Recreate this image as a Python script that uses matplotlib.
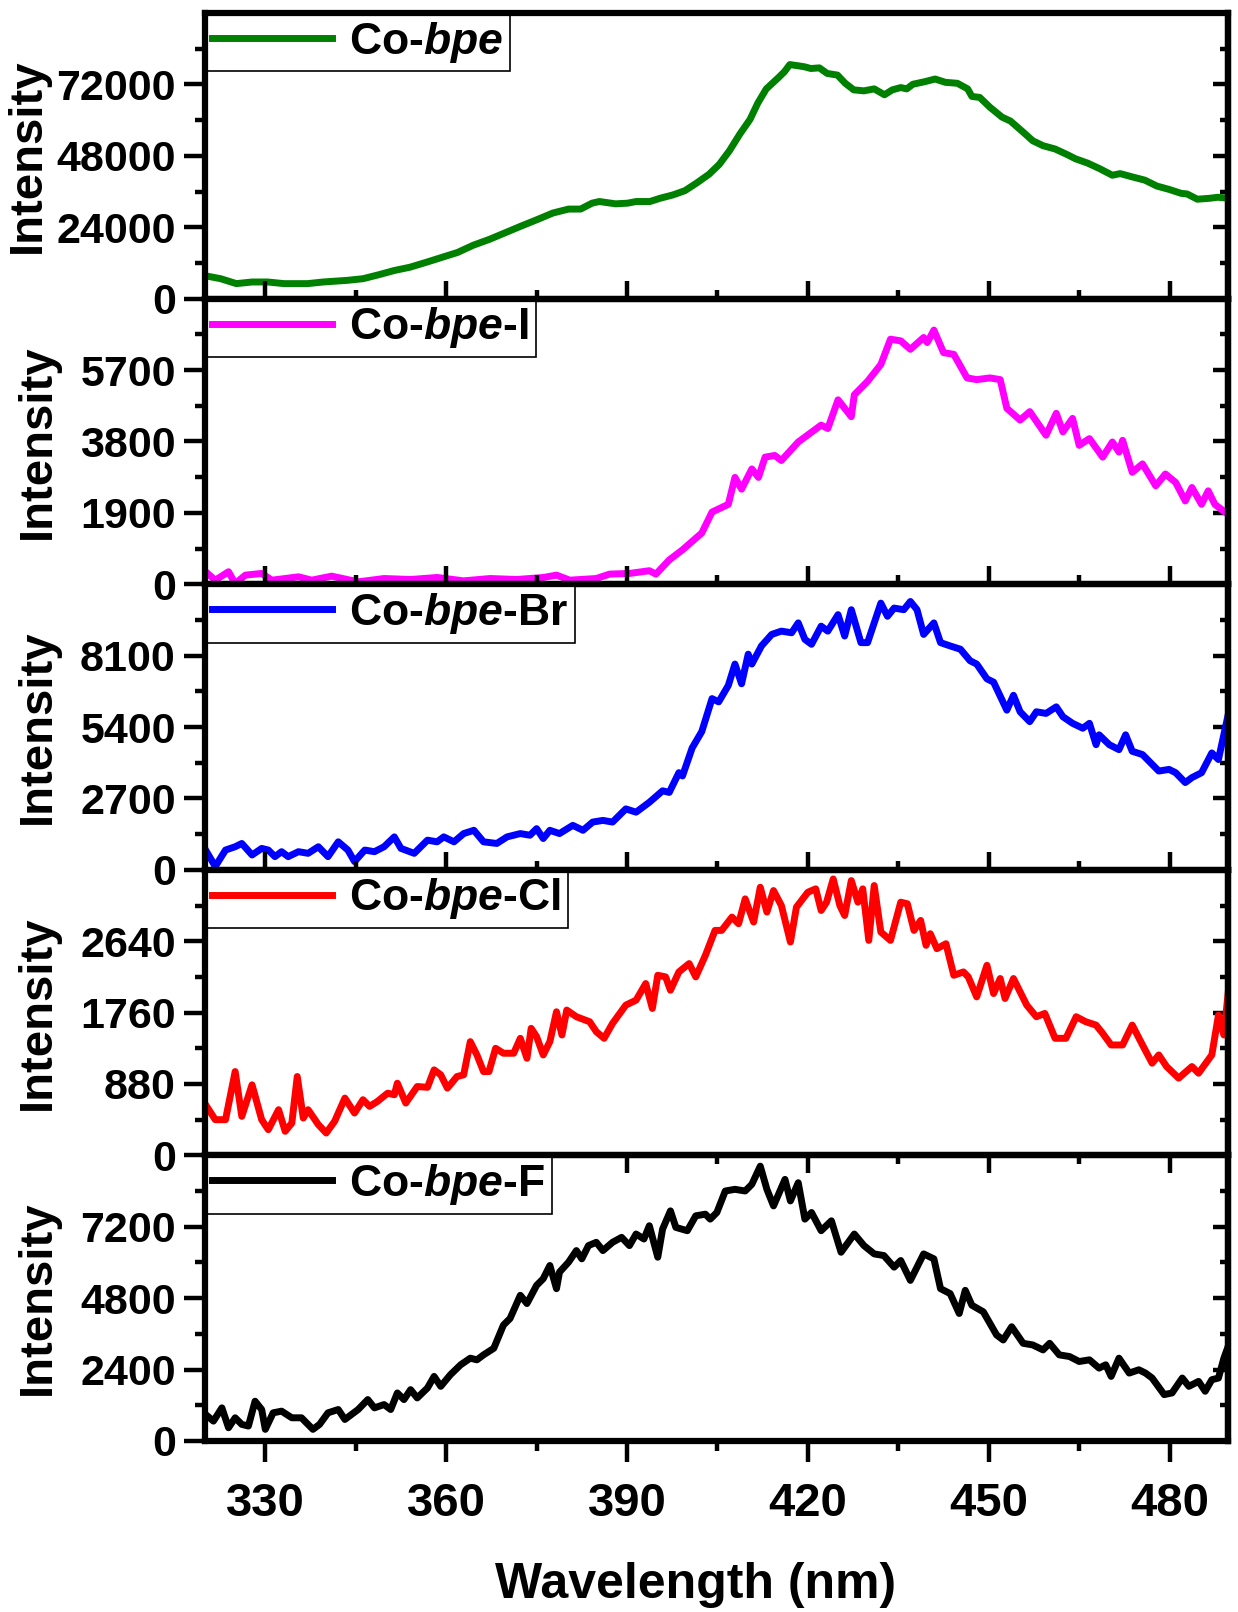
import matplotlib
matplotlib.use('Agg')
import matplotlib.pyplot as plt
from matplotlib.ticker import MultipleLocator, FixedLocator, FuncFormatter

plt.rcParams['font.family'] = ['Liberation Sans', 'DejaVu Sans']
plt.rcParams['font.weight'] = 'bold'
plt.rcParams['mathtext.fontset'] = 'custom'
plt.rcParams['mathtext.rm'] = 'Liberation Sans:bold'
plt.rcParams['mathtext.it'] = 'Liberation Sans:italic:bold'
plt.rcParams['mathtext.bf'] = 'Liberation Sans:bold'

# ---- data ----
co_wl = [320.3, 322.6, 325.2, 327.8, 330.4, 333.1, 337.0, 339.6, 343.6, 346.2, 348.8, 351.4, 354.0,
         356.7, 359.3, 361.9, 364.5, 367.2, 369.8, 372.4, 375.1, 377.7, 380.3, 382.3, 384.2,
         385.4, 388.1, 390.1, 391.5, 393.8, 395.5, 397.6, 399.6, 401.6, 403.6, 405.3, 407.0, 408.7,
         410.4, 411.7, 413.1, 415.1, 416.1, 417.0, 418.5, 419.5, 420.5, 421.9, 423.2, 424.9, 426.2,
         427.6, 429.3, 431.0, 432.7, 434.0, 435.4, 436.4, 437.4, 439.4, 441.1, 442.8, 444.8, 446.5,
         447.2, 448.5, 450.2, 452.2, 453.6, 455.6, 457.3, 459.0, 461.0, 463.0, 464.4, 466.4, 468.4,
         470.5, 471.8, 473.8, 475.9, 477.9, 479.9, 481.9, 482.9, 484.6, 486.7, 488.0, 489.7]
co_int = [7584, 6701, 5045, 5597, 5597, 5045, 5045, 5597, 6149, 6701, 8026, 9461, 10565,
          12221, 13877, 15533, 17962, 19949, 22157, 24365, 26573, 28781, 30106, 30106, 32093,
          32645, 31872, 32093, 32645, 32645, 33749, 34853, 36288, 38937, 41808, 45120, 49757, 55277,
          60245, 65765, 70512, 74266, 76253, 78682, 78240, 77909, 77357, 77578, 75701, 75149, 72389,
          70181, 69850, 70512, 68525, 70181, 70954, 70512, 72058, 72941, 73824, 72720, 72389, 70512,
          67973, 67642, 64330, 61018, 59693, 56160, 53069, 51413, 50309, 48432, 46997, 45562, 43685,
          41477, 42029, 40925, 39821, 37834, 36730, 35405, 35184, 33418, 33749, 34080, 33749]

i_wl = [320.1, 321.7, 323.9, 325.0, 326.7, 329.4, 331.1, 333.3, 335.5, 337.7, 341.0, 345.4, 349.7,
        354.1, 358.5, 362.9, 367.3, 371.7, 376.1, 378.3, 380.5, 384.9, 387.1, 390.4, 393.7, 394.8,
        397.0, 399.2, 402.4, 404.1, 406.8, 407.9, 409.0, 410.7, 411.8, 412.9, 414.5, 415.6, 418.4,
        422.2, 423.3, 425.0, 427.2, 427.7, 429.9, 432.1, 433.7, 435.4, 437.0, 439.2, 439.8, 440.9,
        442.5, 444.2, 446.4, 448.0, 450.2, 451.9, 453.0, 455.2, 456.8, 459.5, 461.2, 462.3, 463.9,
        465.0, 466.7, 468.9, 470.5, 471.6, 472.2, 473.8, 475.5, 477.7, 479.3, 481.0, 482.6, 483.7,
        485.3, 486.4, 487.5, 488.6, 489.7]
i_int = [332, 108, 332, 18, 242, 287, 108, 152, 197, 108, 215, 63, 152,
         126, 179, 90, 152, 126, 179, 242, 108, 152, 269, 287, 359, 269,
         646, 915, 1363, 1920, 2126, 2843, 2530, 3068, 2843, 3382, 3427, 3292, 3785,
         4234, 4144, 4907, 4458, 5041, 5400, 5848, 6521, 6476, 6252, 6566, 6431, 6763,
         6162, 6118, 5490, 5445, 5490, 5445, 4682, 4368, 4593, 3965, 4548, 4054, 4413,
         3696, 3875, 3382, 3785, 3516, 3830, 2978, 3202, 2619, 2933, 2709, 2216, 2574,
         2126, 2485, 2126, 1991, 1857]

br_wl = [320.1, 321.7, 323.4, 325.0, 326.1, 327.8, 329.4, 330.5, 331.6, 332.7, 333.8, 335.5, 337.1,
         338.8, 340.4, 342.1, 343.7, 344.8, 346.5, 348.1, 349.7, 351.4, 352.5, 354.7, 356.9, 358.5,
         359.6, 361.3, 362.9, 364.6, 366.2, 368.4, 370.1, 372.3, 373.9, 375.0, 376.1, 377.2, 378.8,
         381.0, 382.7, 384.3, 386.0, 387.6, 389.8, 391.5, 393.7, 395.9, 397.0, 398.6, 399.2, 400.8,
         402.4, 404.1, 405.2, 406.8, 407.9, 409.0, 410.1, 410.7, 412.3, 414.0, 415.6, 417.3, 418.4,
         419.5, 420.6, 422.2, 423.3, 425.0, 426.1, 427.2, 428.8, 429.9, 432.1, 433.2, 434.3, 435.9,
         437.0, 438.1, 439.2, 440.9, 442.0, 443.6, 445.3, 446.9, 448.0, 449.7, 450.8, 453.0, 454.1,
         455.2, 456.8, 457.9, 459.5, 461.2, 462.3, 463.9, 465.6, 466.7, 467.8, 468.3, 470.0, 471.6,
         472.7, 473.8, 475.5, 478.2, 479.9, 481.0, 482.6, 483.7, 485.3, 487.0, 488.1, 489.7]
br_int = [747, 125, 747, 872, 996, 560, 809, 747, 498, 685, 498, 685, 623,
          872, 498, 1058, 747, 311, 747, 685, 872, 1245, 809, 623, 1121, 1058,
          1245, 1058, 1370, 1494, 1058, 996, 1245, 1370, 1307, 1556, 1183, 1494, 1370,
          1681, 1494, 1805, 1868, 1805, 2303, 2179, 2552, 2988, 2926, 3673, 3548, 4607,
          5229, 6474, 6350, 6972, 7781, 7034, 8155, 7781, 8466, 8902, 9026, 8964, 9338,
          8715, 8528, 9213, 9026, 9649, 8840, 9836, 8591, 8591, 10085, 9587, 9898, 9836,
          10147, 9836, 8902, 9338, 8591, 8466, 8342, 7906, 7781, 7221, 7097, 6038, 6599,
          5976, 5603, 5976, 5914, 6163, 5789, 5540, 5354, 5540, 4731, 5105, 4731, 4544,
          5105, 4482, 4358, 3735, 3797, 3673, 3299, 3486, 3673, 4420, 4171, 5852]

cl_wl = [320.1, 321.7, 323.4, 325.0, 326.1, 327.8, 329.4, 330.5, 332.2, 333.3, 334.4, 335.3, 336.3,
         337.1, 338.8, 340.1, 341.5, 343.2, 344.8, 346.2, 347.3, 348.6, 350.3, 351.4, 351.9, 353.3,
         355.2, 356.9, 358.0, 359.1, 360.2, 361.8, 362.9, 364.0, 365.1, 366.2, 367.1, 368.2, 369.5,
         371.2, 372.3, 373.4, 374.1, 375.0, 376.1, 377.2, 378.3, 379.2, 380.0, 381.6, 383.8, 384.9,
         386.2, 387.6, 389.8, 391.5, 393.1, 394.2, 395.1, 396.4, 397.2, 398.6, 400.3, 401.4, 403.0,
         404.6, 405.7, 407.4, 408.5, 409.6, 411.0, 412.1, 413.2, 414.3, 415.6, 417.1, 418.1, 420.0,
         421.3, 422.2, 423.1, 424.2, 425.3, 426.1, 427.2, 428.3, 429.1, 430.1, 431.0, 432.1, 433.7,
         435.4, 436.5, 437.6, 438.7, 439.6, 440.3, 441.4, 442.9, 444.2, 445.8, 446.6, 448.0, 449.7,
         450.8, 451.9, 452.7, 454.1, 456.3, 457.9, 459.3, 461.0, 462.8, 464.5, 466.1, 467.8, 468.9,
         470.3, 472.2, 473.8, 475.5, 477.1, 478.2, 479.5, 481.5, 483.7, 484.8, 487.0, 488.1, 489.0,
         489.7]
cl_int = [624, 440, 440, 1033, 481, 870, 440, 317, 563, 297, 399, 972, 460,
          563, 379, 276, 420, 706, 522, 686, 604, 665, 767, 747, 890, 645,
          849, 839, 1054, 993, 829, 972, 993, 1402, 1238, 1033, 1033, 1320, 1259,
          1259, 1443, 1197, 1566, 1463, 1238, 1402, 1770, 1484, 1791, 1709, 1647, 1525,
          1443, 1627, 1852, 1913, 2118, 1811, 2220, 2200, 2036, 2261, 2364, 2200, 2466,
          2773, 2773, 2937, 2855, 3162, 2876, 3305, 2999, 3264, 3080, 2630, 3060, 3244,
          3285, 3019, 3121, 3407, 3080, 2957, 3387, 3121, 3285, 2650, 3326, 2753, 2650,
          3121, 3101, 2773, 2896, 2589, 2732, 2548, 2609, 2220, 2261, 2200, 1954, 2343,
          1995, 2180, 1934, 2180, 1852, 1709, 1750, 1443, 1443, 1709, 1647, 1606, 1504,
          1361, 1361, 1606, 1361, 1136, 1238, 1095, 952, 1095, 1013, 1238, 1729, 1484,
          1995]

f_wl = [320.1, 321.4, 322.8, 323.9, 325.0, 326.1, 327.2, 328.3, 329.4, 330.0, 331.3, 332.7, 334.4,
        336.0, 337.9, 339.0, 340.4, 342.1, 343.2, 345.4, 347.0, 348.1, 349.7, 350.8, 351.9, 353.0,
        354.1, 355.2, 356.9, 358.0, 359.1, 360.7, 362.4, 364.0, 365.1, 366.2, 367.9, 369.5, 370.6,
        372.3, 373.4, 375.0, 376.1, 377.2, 378.3, 378.8, 380.3, 381.6, 382.5, 383.6, 384.9, 386.0,
        387.6, 389.1, 390.4, 391.5, 392.8, 393.7, 395.1, 395.9, 397.2, 398.1, 400.0, 401.4, 403.0,
        403.8, 404.9, 406.3, 407.9, 409.6, 410.7, 412.1, 413.2, 414.3, 416.2, 417.1, 418.4, 419.5,
        420.6, 422.2, 423.9, 425.5, 427.7, 429.3, 431.0, 432.6, 434.3, 435.4, 437.0, 439.2, 440.9,
        442.0, 443.6, 445.1, 446.1, 447.2, 449.1, 451.3, 452.4, 453.8, 455.7, 457.3, 459.0, 460.1,
        461.7, 463.4, 465.0, 466.7, 468.3, 469.4, 470.3, 471.6, 473.3, 474.9, 476.0, 477.1, 479.1,
        480.4, 482.1, 483.2, 484.8, 485.9, 487.0, 488.1, 489.0, 489.8]
f_int = [890, 668, 1113, 445, 779, 557, 501, 1336, 1057, 390, 946, 1002, 779,
         779, 390, 557, 946, 1057, 723, 1057, 1391, 1113, 1224, 1057, 1614, 1391,
         1725, 1447, 1781, 2170, 1836, 2226, 2560, 2783, 2727, 2894, 3116, 3896, 4118,
         4897, 4619, 5231, 5454, 5899, 5120, 5676, 6010, 6400, 6122, 6567, 6678, 6400,
         6678, 6845, 6567, 6956, 6789, 7235, 6177, 7123, 7735, 7179, 7068, 7568, 7624,
         7457, 7680, 8403, 8459, 8403, 8626, 9238, 8459, 7902, 8793, 8069, 8681, 7457,
         7680, 7068, 7401, 6344, 6956, 6567, 6288, 6233, 5843, 6066, 5398, 6288, 6122,
         5120, 4953, 4285, 5064, 4563, 4341, 3562, 3395, 3840, 3283, 3228, 3061, 3283,
         2894, 2838, 2671, 2727, 2449, 2560, 2170, 2783, 2282, 2393, 2282, 2115, 1558,
         1614, 2115, 1836, 2003, 1670, 2059, 2115, 2783, 3228]

labels = ['Co-$\\mathit{bpe}$', 'Co-$\\mathit{bpe}$-I', 'Co-$\\mathit{bpe}$-Br',
          'Co-$\\mathit{bpe}$-Cl', 'Co-$\\mathit{bpe}$-F']
colors = ['#008000', '#ff00ff', '#0000ff', '#ff0000', '#000000']
steps = [24000, 1900, 2700, 880, 2400]
series = [(co_wl, co_int), (i_wl, i_int), (br_wl, br_int), (cl_wl, cl_int), (f_wl, f_int)]

fig, axes = plt.subplots(5, 1, figsize=(12.38, 16.12), dpi=100)
fig.subplots_adjust(left=0.1656, right=0.992, top=0.9919, bottom=0.1061, hspace=0)

for i, ax in enumerate(axes):
    wl, val = series[i]
    step = steps[i]
    # transparent panels so ticks poking into the next panel stay visible
    ax.patch.set_visible(False)
    ax.plot(wl, val, color=colors[i], lw=5, label=labels[i], zorder=1.5)
    ax.set_xlim(320, 489.7)
    ax.set_ylim(0, 4 * step)

    for sp in ax.spines.values():
        sp.set_linewidth(4.5)

    ax.yaxis.set_major_locator(FixedLocator([0, step, 2 * step, 3 * step]))
    ax.yaxis.set_minor_locator(FixedLocator([step / 2, 1.5 * step, 2.5 * step, 3.5 * step]))
    ax.yaxis.set_major_formatter(FuncFormatter(lambda v, p: '%d' % round(v)))
    ax.tick_params(axis='y', which='both', direction='out', left=True, right=False,
                   width=3.2, labelsize=31, pad=6)
    ax.tick_params(axis='y', which='major', length=15)
    ax.tick_params(axis='y', which='minor', length=7.5)

    # right side ticks point inward
    sec = ax.secondary_yaxis('right')
    sec.yaxis.set_major_locator(FixedLocator([0, step, 2 * step, 3 * step]))
    sec.yaxis.set_minor_locator(FixedLocator([step / 2, 1.5 * step, 2.5 * step, 3.5 * step]))
    sec.tick_params(axis='y', which='both', direction='in', width=3.2, labelright=False)
    sec.tick_params(axis='y', which='major', length=11)
    sec.tick_params(axis='y', which='minor', length=6)
    sec.spines['right'].set_linewidth(4.5)

    ax.xaxis.set_major_locator(MultipleLocator(30))
    ax.xaxis.set_minor_locator(MultipleLocator(15))

    # x ticks: panels 1-3 point up into the panel, panel 4 points down into panel 5,
    # the bottom panel points out and carries the labels
    xdir = 'in' if i < 3 else 'out'
    ax.tick_params(axis='x', which='both', direction=xdir, bottom=True, top=False,
                   labelbottom=(i == 4), width=3.2, labelsize=34, pad=14)
    ax.tick_params(axis='x', which='major', length=15 if i == 4 else 13)
    ax.tick_params(axis='x', which='minor', length=7.5 if i == 4 else 6.5)

    ax.set_ylabel('Intensity', fontsize=34, fontweight='bold')
    ax.yaxis.set_label_coords(-0.152 if i == 0 else -0.142, 0.5)

    leg = ax.legend(loc='upper left', bbox_to_anchor=(0, 1), borderaxespad=0,
                    frameon=True, fancybox=False, edgecolor='black', framealpha=1,
                    fontsize=32, handlelength=2.7, handletextpad=0.4, borderpad=0.15)
    leg.get_frame().set_linewidth(1.2)
    leg.set_zorder(2)

axes[-1].set_xlabel('Wavelength (nm)', fontsize=36, fontweight='bold')
axes[-1].xaxis.set_label_coords(0.479, -0.424)

# put the wavelength tick labels where the reference has them (top of digits ~1482 px)
fig.canvas.draw()
lab = [t for t in axes[-1].get_xticklabels() if t.get_text()][0]
top_px = fig.bbox.height - lab.get_window_extent().y1
shift_pt = (1482 - top_px) * 72.0 / fig.dpi
axes[-1].tick_params(axis='x', which='major', pad=max(2, 14 + shift_pt))

plt.savefig('out.png', dpi=100)
